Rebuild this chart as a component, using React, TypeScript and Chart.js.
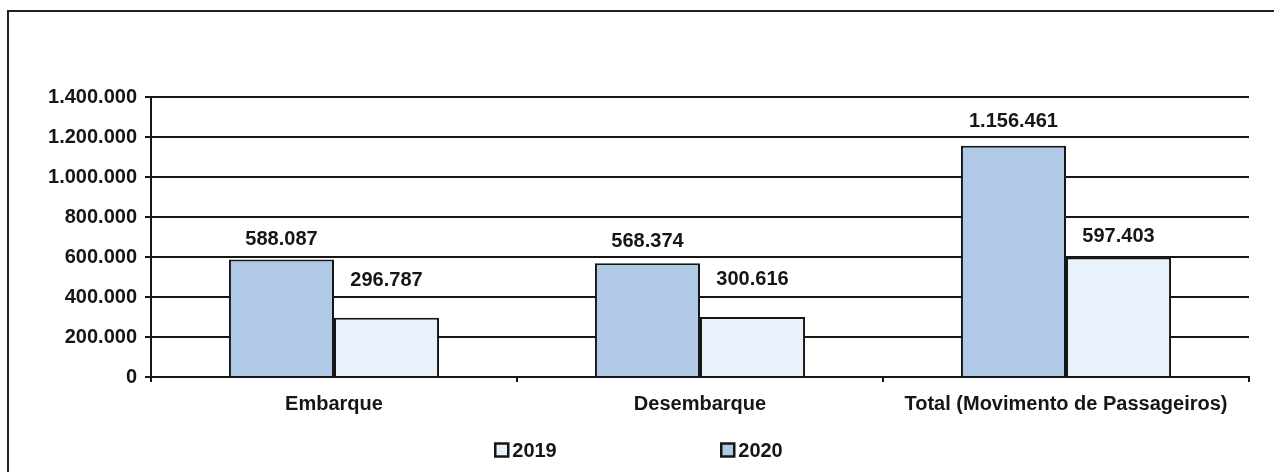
import React, { useEffect, useRef } from "react";
import { Chart, registerables } from "chart.js";

Chart.register(...registerables);

const categories = ["Embarque", "Desembarque", "Total (Movimento de Passageiros)"];
const values2020 = [588087, 568374, 1156461];
const values2019 = [296787, 300616, 597403];
const yTicks = [0, 200000, 400000, 600000, 800000, 1000000, 1200000, 1400000];

const COLOR_2020 = "#AFC9E6";
const COLOR_2019 = "#E9F1FA";
const INK = "#161616";
const FONT = "'Liberation Sans', Arial, sans-serif";
const FONT_SIZE = 20;
// vertical lift of each value label above its bar top (px), per dataset
const LABEL_LIFT_2020 = [20, 22, 24];
const LABEL_LIFT_2019 = [37, 37, 21];

function fmt(v: number): string {
  return String(Math.round(v)).replace(/\B(?=(\d{3})+(?!\d))/g, ".");
}

const valueLabels = {
  id: "valueLabels",
  afterDatasetsDraw(chart: any) {
    const ctx = chart.ctx;
    ctx.save();
    ctx.font = `bold ${FONT_SIZE}px ${FONT}`;
    ctx.fillStyle = INK;
    ctx.textAlign = "center";
    ctx.textBaseline = "middle";
    chart.data.datasets.forEach((ds: any, di: number) => {
      const meta = chart.getDatasetMeta(di);
      const lifts = di === 0 ? LABEL_LIFT_2020 : LABEL_LIFT_2019;
      meta.data.forEach((el: any, i: number) => {
        ctx.fillText(fmt(ds.data[i]), el.x, el.y - lifts[i]);
      });
    });
    ctx.restore();
  },
};

const bottomLegend = {
  id: "bottomLegend",
  afterDraw(chart: any) {
    const ctx = chart.ctx;
    ctx.save();
    ctx.font = `bold ${FONT_SIZE}px ${FONT}`;
    const items = [
      { text: "2019", color: COLOR_2019 },
      { text: "2020", color: COLOR_2020 },
    ];
    const box = 13;
    const step = 226;
    const lastW = box + 4 + ctx.measureText(items[1].text).width;
    const total = step + lastW;
    const startX = chart.width / 2 - total / 2 + 2;
    const cy = 450;
    items.forEach((it, i) => {
      const x = startX + i * step;
      ctx.fillStyle = it.color;
      ctx.fillRect(x, cy - box / 2, box, box);
      ctx.strokeStyle = INK;
      ctx.lineWidth = 2.5;
      ctx.strokeRect(x, cy - box / 2, box, box);
      ctx.fillStyle = INK;
      ctx.textAlign = "left";
      ctx.textBaseline = "middle";
      ctx.fillText(it.text, x + box + 4, cy + 1);
    });
    ctx.restore();
  },
};

export default function App() {
  const ref = useRef<HTMLCanvasElement | null>(null);
  useEffect(() => {
    if (!ref.current) return;
    const chart = new Chart(ref.current, {
      type: "bar",
      data: {
        labels: categories,
        datasets: [
          {
            label: "2020",
            data: values2020,
            backgroundColor: COLOR_2020,
            borderColor: INK,
            borderWidth: 2,
            categoryPercentage: 0.574,
            barPercentage: 1,
          },
          {
            label: "2019",
            data: values2019,
            backgroundColor: COLOR_2019,
            borderColor: INK,
            borderWidth: 2,
            categoryPercentage: 0.574,
            barPercentage: 1,
          },
        ],
      },
      options: {
        responsive: false,
        animation: false,
        layout: { padding: { top: 97, right: 25, left: 0, bottom: 0 } },
        plugins: {
          legend: { display: false },
          tooltip: { enabled: false },
        },
        scales: {
          x: {
            offset: true,
            grid: {
              display: true,
              offset: true,
              drawOnChartArea: false,
              drawTicks: true,
              tickLength: 5,
              color: INK,
              lineWidth: 2,
            },
            border: { display: true, color: INK, width: 2 },
            ticks: {
              color: INK,
              font: { family: FONT, size: FONT_SIZE, weight: "bold" },
              padding: 10,
              maxRotation: 0,
              autoSkip: false,
            },
            afterFit(scale: any) {
              scale.height = 95;
            },
          },
          y: {
            min: 0,
            max: 1400000,
            afterBuildTicks(scale: any) {
              scale.ticks = yTicks.map((v) => ({ value: v }));
            },
            grid: {
              color: INK,
              lineWidth: 2,
              tickLength: 6,
              drawTicks: true,
            },
            border: { display: true, color: INK, width: 2 },
            ticks: {
              color: INK,
              font: { family: FONT, size: FONT_SIZE, weight: "bold" },
              padding: 8,
              callback: (v: any) => fmt(Number(v)),
            },
            afterFit(scale: any) {
              scale.width = 151;
            },
          },
        },
      },
      plugins: [valueLabels, bottomLegend],
    });
    return () => chart.destroy();
  }, []);

  return (
    <div
      style={{
        position: "fixed",
        left: 0,
        top: 0,
        width: 1274,
        height: 472,
        overflow: "hidden",
        background: "#fff",
      }}
    >
      <div
        style={{
          position: "absolute",
          left: 7,
          top: 10,
          width: 1400,
          height: 600,
          borderTop: "2.5px solid #222",
          borderLeft: "2.5px solid #222",
        }}
      />
      <canvas
        ref={ref}
        width={1274}
        height={472}
        style={{ position: "absolute", left: 0, top: 0, width: 1274, height: 472 }}
      />
    </div>
  );
}
